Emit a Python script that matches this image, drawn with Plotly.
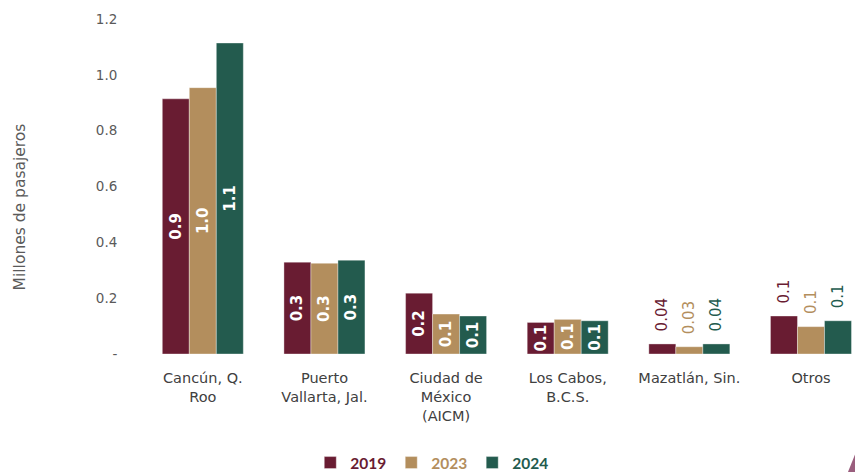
import plotly.graph_objects as go

categories = ["Cancún, Q.<br>Roo", "Puerto<br>Vallarta, Jal.", "Ciudad de<br>México<br>(AICM)",
              "Los Cabos,<br>B.C.S.", "Mazatlán, Sin.", "Otros"]
years = ["2019", "2023", "2024"]
v2019 = [0.914, 0.329, 0.218, 0.113, 0.036, 0.136]
v2023 = [0.954, 0.325, 0.143, 0.124, 0.026, 0.098]
v2024 = [1.114, 0.336, 0.136, 0.119, 0.036, 0.119]
lab2019 = ["0.9", "0.3", "0.2", "0.1", "0.04", "0.1"]
lab2023 = ["1.0", "0.3", "0.1", "0.1", "0.03", "0.1"]
lab2024 = ["1.1", "0.3", "0.1", "0.1", "0.04", "0.1"]
colors = ["#691C32", "#B38E5D", "#235B4E"]
outside = [False, False, False, False, True, True]
ytick_vals = [0, 0.2, 0.4, 0.6, 0.8, 1.0, 1.2]
ytick_text = ["-", "0.2", "0.4", "0.6", "0.8", "1.0", "1.2"]

FONT = "DejaVu Sans"
fig = go.Figure()
for name, vals, labs, col in zip(years, [v2019, v2023, v2024], [lab2019, lab2023, lab2024], colors):
    texts = ["\u00a0\u00a0" + lab if out else "<b>" + lab + "</b>" for lab, out in zip(labs, outside)]
    fig.add_trace(go.Bar(
        x=categories, y=vals, name=f"<span style='color:{col}'><b>{name}</b></span>",
        marker=dict(color=col, line=dict(color="rgba(255,255,255,0.6)", width=0.6)),
        text=texts, textangle=-90,
        textposition=["outside" if o else "inside" for o in outside],
        insidetextanchor="middle",
        textfont=dict(family=FONT, size=15,
                      color=[col if o else "white" for o in outside]),
        cliponaxis=False,
    ))

W, H = 855, 472
left, right_edge, top, bottom = 141.6, 855, 19.2, 354
cat_w = 121.7
x_hi = -0.5 + (right_edge - left) / cat_w

fig.update_layout(
    width=W, height=H,
    margin=dict(l=left, r=W - right_edge, t=top, b=H - bottom),
    paper_bgcolor="white", plot_bgcolor="white",
    barmode="group", bargap=0.334, bargroupgap=0,
    uniformtext=dict(minsize=15, mode="show"),
    font=dict(family=FONT, color="#404040"),
    showlegend=True,
    legend=dict(orientation="h", x=0.505, xref="container", xanchor="center",
                y=1 - 463 / H, yref="container", yanchor="middle",
                font=dict(family="Lato", size=15.5), itemwidth=30,
                tracegroupgap=0, itemclick=False),
    xaxis=dict(range=[-0.5, x_hi], showgrid=False, showline=False, zeroline=False,
               ticks="outside", ticklen=11, tickcolor="rgba(0,0,0,0)",
               tickfont=dict(family=FONT, size=14.5, color="#404040")),
    yaxis=dict(range=[0, 1.2], tickvals=ytick_vals, ticktext=ytick_text,
               showgrid=False, showline=False, zeroline=False,
               ticks="outside", ticklen=21, tickcolor="rgba(0,0,0,0)",
               tickfont=dict(family=FONT, size=13.5, color="#5a5a5a")),
)
fig.add_annotation(text="Millones de pasajeros", textangle=-90,
                   xref="paper", yref="paper",
                   x=(19 - left) / (right_edge - left),
                   y=(bottom - 207) / (bottom - top),
                   xanchor="center", yanchor="middle", showarrow=False,
                   font=dict(family=FONT, size=15.5, color="#5a5a5a"))
fig.add_shape(type="path", xref="x domain", yref="y domain",
              path="M 1.0,-0.353 L 1.0,-0.30 L 0.99,-0.353 Z",
              fillcolor="#9A5E7E", line=dict(width=0), layer="above")
fig.write_html("out.html", config={"displayModeBar": False},
               post_script="document.body.style.margin='0';")
